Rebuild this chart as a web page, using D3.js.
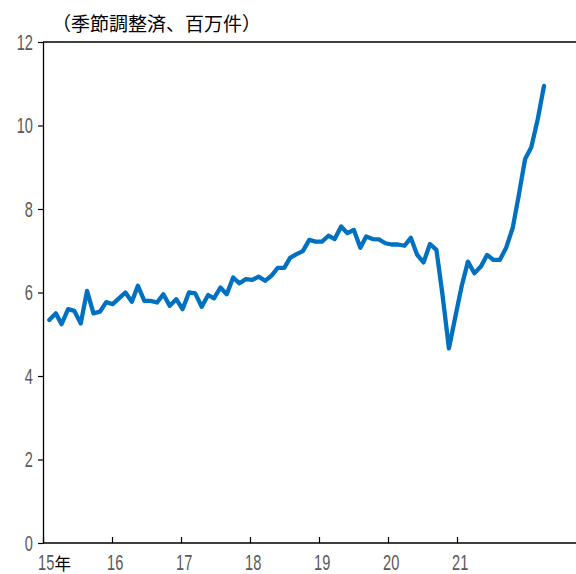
<!DOCTYPE html>
<html>
<head>
<meta charset="utf-8">
<script src="https://cdn.jsdelivr.net/npm/d3@7"></script>
<style>
  body { margin: 0; background: #fff; }
  svg { display: block; }
</style>
</head>
<body>
<div id="chart"></div>
<script>
// job openings, monthly, Jan 2015 - Jul 2021 (millions, seasonally adjusted)
const startMonth = new Date(2015, 0, 1);
const endMonth = new Date(2021, 6, 1);
const openings = [
  5.34, 5.50, 5.24, 5.60, 5.56, 5.26, 6.04, 5.50, 5.54, 5.77, 5.72, 5.86,
  6.00, 5.78, 6.16, 5.80, 5.80, 5.76, 5.96, 5.68, 5.84, 5.60, 6.00, 5.98,
  5.66, 5.94, 5.86, 6.12, 5.96, 6.36, 6.22, 6.32, 6.30, 6.38, 6.28, 6.40,
  6.59, 6.59, 6.83, 6.92, 6.99, 7.26, 7.22, 7.22, 7.36, 7.28, 7.58, 7.42,
  7.50, 7.07, 7.34, 7.28, 7.27, 7.18, 7.15, 7.15, 7.12, 7.31, 6.90, 6.72,
  7.16, 7.02, 5.95, 4.66, 5.40, 6.15, 6.74, 6.46, 6.62, 6.90, 6.78, 6.78,
  7.08, 7.55, 8.30, 9.19, 9.48, 10.15, 10.95
];
const yearLabels = ['15', '16', '17', '18', '19', '20', '21'];
const yTicks = [0, 2, 4, 6, 8, 10, 12];
const unitLabel = '（季節調整済、百万件）';

const width = 576, height = 574;
const margin = { top: 42, right: 0, bottom: 31, left: 43 };
const numFont = '"Liberation Sans", Arial, sans-serif';
const cjkFont = '"Noto Sans CJK JP", sans-serif';
const squeeze = 0.68; // tick digits are drawn condensed

const months = d3.timeMonth.range(startMonth, d3.timeMonth.offset(endMonth, 1));
const data = months.map((m, i) => ({ date: m, value: openings[i] }));

const svg = d3.select('#chart')
  .append('svg')
  .attr('width', width)
  .attr('height', height);

const x = d3.scaleTime()
  .domain([startMonth, endMonth])
  .range([49.3, 544]);

// year ticks of the category axis sit on their own spacing
const xTick = d3.scalePoint()
  .domain(yearLabels)
  .range([margin.left, 457]);

const y = d3.scaleLinear()
  .domain([0, 12])
  .range([height - margin.bottom, margin.top]);

// y axis
const gy = svg.append('g')
  .attr('transform', `translate(${margin.left},0)`)
  .call(d3.axisLeft(y).tickValues(yTicks).tickSize(5).tickSizeOuter(0).tickFormat(''));
gy.select('.domain').attr('stroke', '#000').attr('stroke-width', 1.3);
gy.selectAll('.tick line').attr('stroke', '#000').attr('stroke-width', 1.2);

svg.append('g')
  .selectAll('text')
  .data(yTicks)
  .join('text')
  .attr('transform', d => `translate(33,${y(d)}) scale(${squeeze},1)`)
  .attr('text-anchor', 'end')
  .attr('dy', '0.36em')
  .attr('fill', '#595959')
  .style('font-family', numFont)
  .style('font-size', '21.5px')
  .text(d => d);

// frame lines top and bottom
svg.append('line')
  .attr('x1', margin.left).attr('x2', width)
  .attr('y1', y(12)).attr('y2', y(12))
  .attr('stroke', '#000').attr('stroke-width', 1.3);

const gx = svg.append('g')
  .attr('transform', `translate(0,${y(0)})`)
  .call(d3.axisBottom(xTick).tickSize(-6).tickSizeOuter(0).tickFormat(''));
gx.select('.domain').remove();
gx.selectAll('.tick line').attr('stroke', '#000').attr('stroke-width', 1.2);

svg.append('line')
  .attr('x1', margin.left).attr('x2', width)
  .attr('y1', y(0)).attr('y2', y(0))
  .attr('stroke', '#000').attr('stroke-width', 1.3);

svg.append('g')
  .selectAll('text')
  .data(yearLabels)
  .join('text')
  .attr('transform', d => `translate(${xTick(d) - 5},569.5) scale(${squeeze},1)`)
  .attr('fill', '#595959')
  .style('font-family', numFont)
  .style('font-size', '21.5px')
  .text(d => d);

svg.append('text')
  .attr('x', xTick(yearLabels[0]) + 11.5)
  .attr('y', 569.5)
  .attr('fill', '#000')
  .style('font-family', cjkFont)
  .style('font-size', '16.5px')
  .text('年');

// unit label
svg.append('text')
  .attr('x', 52)
  .attr('y', 31)
  .style('font-family', cjkFont)
  .style('font-size', '19px')
  .attr('fill', '#000')
  .text(unitLabel);

const line = d3.line()
  .x(d => x(d.date))
  .y(d => y(d.value));

svg.append('path')
  .datum(data)
  .attr('fill', 'none')
  .attr('stroke', '#0070C0')
  .attr('stroke-width', 4.3)
  .attr('stroke-linejoin', 'round')
  .attr('stroke-linecap', 'round')
  .attr('d', line);
</script>
</body>
</html>
